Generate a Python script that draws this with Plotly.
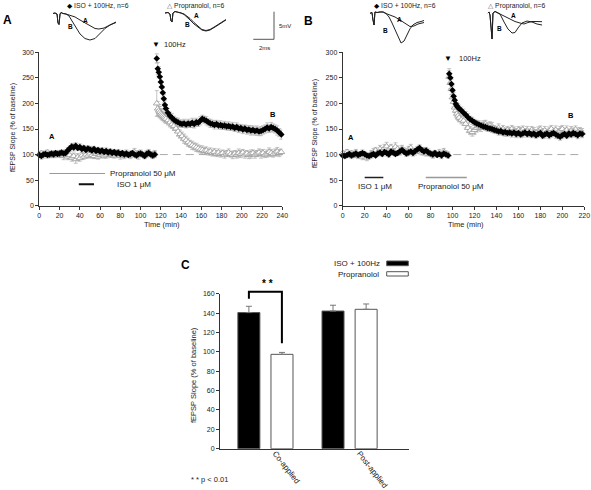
import plotly.graph_objects as go

W, H = 591, 490
FONT = "Liberation Sans, Arial, sans-serif"


def px(x):
    return x / W


def py(y):
    return 1 - y / H


# ---------------- Panel A data (time in min, fEPSP slope % of baseline) ----------------
tA_base = [0, 2, 4, 6, 8, 10, 12, 14, 16, 18, 20, 22, 24, 26, 28, 30, 32, 34, 36, 38,
           40, 42, 44, 46, 48, 50, 52, 54, 56, 58, 60, 62, 64, 66, 68, 70, 72, 74, 76, 78,
           80, 82, 84, 86, 88, 90, 92, 94, 96, 98, 100, 102, 104, 106, 108, 110, 112, 114]
tA_post = [116, 117, 118, 119, 120, 121, 122, 123, 124, 125,
           127, 129, 131, 133, 135, 137, 139, 141, 143, 145, 147, 149, 151, 153, 155, 157, 159,
           161, 163, 165, 167, 169, 171, 173, 175, 177, 179, 181, 183, 185, 187, 189, 191, 193,
           195, 197, 199, 201, 203, 205, 207, 209, 211, 213, 215, 217, 219, 221, 223, 225, 227,
           229, 231, 233, 235, 237, 239]

isoA_base = [99, 97, 100, 101, 99, 100, 102, 100, 103, 101,
             102, 104, 102, 103, 108, 112, 116, 114, 117, 113,
             115, 111, 113, 109, 112, 110, 108, 111, 107, 109,
             106, 108, 105, 107, 104, 106, 103, 105, 102, 104,
             101, 103, 100, 102, 99, 101, 103, 100, 98, 101,
             102, 100, 97, 101, 103, 100, 98, 100]
isoA_post = [288, 268, 261, 252, 242, 232, 221, 209, 197, 190,
             182, 176, 172, 168, 165, 163, 161,
             160, 161, 159, 161, 160, 162, 160, 163, 162, 166,
             170, 168, 166, 163, 161, 160, 158, 160, 157, 158,
             156, 157, 155, 156, 154, 155, 152, 154, 151, 152,
             149, 151, 148, 149, 147, 148, 146, 147, 145, 146,
             148, 150, 153, 151, 154, 152, 150, 147, 143, 139]
isoA_err_base = [5, 6, 5, 4, 6, 5, 5, 6, 4, 5, 6, 5, 5, 7, 6, 5, 6, 7, 6, 5,
                 6, 7, 5, 6, 5, 6, 7, 5, 6, 5, 6, 5, 4, 6, 5, 5, 6, 5, 4, 6,
                 5, 5, 6, 4, 5, 6, 5, 4, 5, 6, 5, 4, 5, 6, 5, 4, 5, 6]
isoA_err_post = [9, 12, 11, 10, 10, 9, 9, 8, 8, 8,
                 8, 7, 8, 7, 7, 8, 7, 7, 8, 7, 8, 7, 9, 8, 8, 7, 8, 7, 7, 8,
                 7, 8, 7, 8, 7, 7, 8, 7, 8, 7, 8, 7, 8, 7, 8, 8, 7, 8, 7, 8,
                 8, 9, 8, 8, 9, 8, 9, 8, 8, 9, 8, 9, 8, 8, 9, 8, 9]

propA_base = [101, 103, 99, 102, 104, 100, 98, 102, 100, 103,
              99, 101, 97, 100, 96, 99, 94, 97, 91, 95,
              93, 98, 96, 100, 98, 102, 99, 97, 101, 96,
              99, 102, 98, 100, 103, 99, 101, 98, 102, 100,
              97, 101, 99, 103, 100, 98, 102, 105, 101, 99,
              103, 100, 98, 102, 104, 101, 99, 102]
propA_post = [200, 190, 186, 183, 180, 178, 176, 174, 172, 170,
              167, 163, 159, 156, 151, 145, 140,
              136, 131, 128, 124, 121, 118, 116, 114, 112, 110,
              109, 107, 108, 105, 106, 103, 105, 102, 104, 101,
              103, 100, 102, 104, 101, 99, 102, 100, 103, 101,
              104, 100, 102, 99, 101, 103, 100, 102, 104, 101,
              103, 100, 102, 105, 103, 101, 104, 106, 103, 105]
propA_err_base = [5, 4, 6, 5, 5, 6, 4, 5, 6, 5, 5, 6, 7, 5, 6, 8, 7, 6, 8, 7,
                  6, 7, 5, 6, 5, 7, 6, 5, 6, 5, 5, 6, 5, 7, 6, 5, 6, 5, 6, 5,
                  6, 5, 7, 6, 5, 6, 5, 7, 6, 8, 6, 5, 6, 5, 6, 5, 7, 6]
propA_err_post = [25, 14, 12, 11, 10, 10, 9, 9, 9, 9,
                  9, 9, 8, 9, 8, 9, 8, 8, 9, 8, 8, 7, 8, 7, 8, 7, 7, 8, 7, 7,
                  6, 7, 6, 7, 6, 7, 6, 6, 7, 6, 7, 6, 7, 6, 7, 8, 7, 6, 7, 6,
                  7, 8, 6, 7, 6, 7, 8, 7, 6, 7, 8, 7, 6, 7, 8, 7, 6]

# ---------------- Panel B data ----------------
tB_base = [0, 2, 4, 6, 8, 10, 12, 14, 16, 18, 20, 22, 24, 26, 28, 30, 32, 34, 36, 38,
           40, 42, 44, 46, 48, 50, 52, 54, 56, 58, 60, 62, 64, 66, 68, 70, 72, 74, 76, 78,
           80, 82, 84, 86, 88, 90, 92, 94, 96]
tB_post = [97, 98, 99, 100, 101, 102, 103, 104, 105, 106,
           108, 110, 112, 114, 116, 118, 120, 122, 124, 126, 128, 130, 132, 134, 136, 138,
           140, 142, 144, 146, 148, 150, 152, 154, 156, 158, 160, 162, 164, 166, 168, 170,
           172, 174, 176, 178, 180, 182, 184, 186, 188, 190, 192, 194, 196, 198, 200, 202,
           204, 206, 208, 210, 212, 214, 216, 218]

isoB_base = [98, 97, 99, 101, 98, 100, 102, 99, 101, 103,
             101, 98, 97, 99, 101, 98, 102, 104, 101, 105,
             103, 100, 106, 104, 101, 103, 106, 109, 105, 102,
             104, 106, 103, 107, 110, 113, 109, 106, 108, 104,
             102, 100, 103, 99, 101, 98, 102, 100, 98]
isoB_post = [258, 250, 238, 226, 214, 206, 199, 195, 192, 190,
             186, 182, 178, 173, 169, 166, 163, 161, 159, 157,
             155, 154, 152, 151, 150, 148, 147, 145, 146, 143,
             144, 142, 143, 141, 143, 140, 142, 139, 141, 143,
             140, 142, 139, 141, 138, 140, 142, 137, 139, 141,
             138, 140, 142, 139, 137, 135, 138, 140, 137, 141,
             139, 142, 140, 138, 141, 140]
isoB_err_base = [4, 5, 4, 5, 6, 4, 5, 4, 5, 6, 5, 4, 5, 6, 5, 4, 5, 6, 5, 4,
                 6, 5, 5, 6, 4, 5, 6, 5, 4, 5, 6, 5, 6, 5, 4, 6, 5, 5, 6, 4,
                 5, 6, 5, 4, 5, 6, 5, 4, 5]
isoB_err_post = [10, 9, 9, 8, 8, 8, 7, 7, 7, 7,
                 7, 7, 6, 7, 6, 7, 6, 6, 7, 6, 6, 7, 6, 6, 7, 6, 6, 7, 6, 6,
                 7, 6, 6, 7, 6, 7, 6, 6, 7, 6, 6, 7, 6, 7, 6, 6, 7, 6, 7, 6,
                 7, 6, 6, 7, 6, 7, 7, 6, 6, 7, 6, 7, 6, 7, 6, 7]

propB_base = [103, 100, 105, 98, 102, 99, 104, 97, 101, 96,
              99, 94, 98, 102, 105, 108, 104, 111, 107, 113,
              116, 110, 114, 108, 115, 111, 106, 112, 108, 104,
              110, 113, 107, 105, 109, 111, 104, 108, 102, 105,
              101, 99, 103, 100, 104, 101, 106, 102, 100]
propB_post = [252, 240, 228, 212, 203, 192, 186, 180, 176, 172,
              168, 166, 160, 152, 147, 144, 148, 152, 155, 152,
              158, 160, 154, 157, 155, 150, 148, 152, 146, 150,
              144, 148, 145, 150, 147, 143, 148, 145, 149, 144,
              147, 143, 148, 145, 142, 146, 149, 144, 147, 143,
              146, 150, 145, 148, 144, 147, 150, 145, 148, 143,
              147, 145, 149, 144, 146, 143]
propB_err_base = [5, 6, 5, 4, 6, 5, 6, 5, 4, 6, 5, 6, 5, 6, 7, 6, 5, 7, 6, 7,
                  8, 7, 6, 7, 8, 6, 7, 6, 5, 7, 6, 7, 5, 6, 7, 6, 5, 6, 5, 6,
                  5, 6, 5, 4, 6, 5, 6, 5, 5]
propB_err_post = [12, 11, 11, 10, 10, 10, 9, 9, 9, 8,
                  8, 9, 8, 9, 8, 8, 9, 8, 8, 7, 8, 7, 8, 7, 8, 7, 7, 8, 7, 7,
                  8, 7, 8, 7, 7, 8, 7, 8, 7, 7, 8, 7, 7, 8, 7, 8, 7, 7, 8, 7,
                  8, 7, 7, 8, 7, 8, 7, 7, 8, 7, 8, 7, 7, 8, 7, 8]

# Event times and drug application periods (min)
tetanus_A, tetanus_B = 115, 96
propA_period, isoA_period = [10, 65], [39, 54]
isoB_period, propB_period = [20, 37], [75.6, 113]

# ---------------- Panel C data ----------------
groups = ["Co-applied", "Post-applied"]
iso_c = [140.5, 142.1]
iso_c_err = [6.5, 6.0]
prop_c = [97.4, 143.9]
prop_c_err = [2.0, 5.5]

# ---------------- Waveform insets (ms, mV) ----------------
wA_iso_ms_a = [0, 0.19, 0.39, 0.48, 0.58, 0.68, 0.77, 0.97, 1.26, 1.64, 2.13, 2.61, 3.09, 3.57, 4.06, 4.44, 4.93, 5.51, 6.09]
wA_iso_mv_a = [0, 0.09, -0.09, -1.72, -1.99, -0.09, 0.18, 0, -0.09, -0.27, -0.63, -1.18, -1.72, -2.26, -2.72, -2.81, -2.63, -2.08, -1.54]
wA_iso_ms_b = [0, 0.19, 0.39, 0.48, 0.58, 0.68, 0.77, 0.97, 1.26, 1.55, 1.84, 2.22, 2.61, 3.09, 3.57, 4.06, 4.54, 5.02, 5.51, 6.09]
wA_iso_mv_b = [0, 0.09, -0.09, -1.72, -1.99, -0.09, 0.18, 0, -0.09, -0.45, -1.36, -2.63, -3.71, -4.53, -4.80, -4.53, -3.53, -2.72, -2.08, -1.63]

wA_prop_ms = [0, 0.29, 0.48, 0.58, 0.68, 0.77, 0.97, 1.26, 1.55, 1.84, 2.13, 2.42, 2.80, 3.19, 3.57, 3.96, 4.35, 4.83, 5.31, 5.89]
wA_prop_mv_a = [0, 0.09, -0.18, -1.45, -1.63, 0, 0.27, 0.18, 0, -0.18, -0.54, -1.00, -1.72, -2.45, -2.99, -3.17, -2.99, -2.45, -1.81, -1.18]
wA_prop_mv_b = [0, 0.09, -0.18, -1.45, -1.63, 0, 0.27, 0.18, 0, -0.27, -0.72, -1.27, -1.99, -2.63, -3.08, -3.26, -3.08, -2.54, -1.90, -1.27]

wB_iso_ms_a = [0, 0.19, 0.29, 0.39, 0.48, 0.68, 0.97, 1.26, 1.55, 1.93, 2.42, 2.90, 3.38, 3.86, 4.25, 4.64, 5.22]
wB_iso_mv_a = [0, 0.14, -1.23, -2.12, 0.24, 0.14, 0.24, 0.24, -0.04, -0.31, -0.67, -1.22, -1.85, -2.39, -2.30, -1.94, -1.67]
wB_iso_ms_b = [0, 0.19, 0.29, 0.39, 0.48, 0.68, 0.97, 1.26, 1.55, 1.84, 2.13, 2.42, 2.71, 3.00, 3.29, 3.57, 3.86, 4.15, 4.54, 4.93, 5.22]
wB_iso_mv_b = [0, 0.14, -1.23, -2.12, 0.24, 0.14, 0.24, 0.24, -0.04, -0.67, -1.76, -3.03, -4.29, -5.38, -5.02, -3.93, -2.83, -2.10, -1.67, -1.49, -1.30]

wB_prop_ms_a = [0, 0.13, 0.22, 0.32, 0.42, 0.51, 0.71, 0.90, 1.19, 1.67, 2.15, 2.64, 3.12, 3.51, 3.89, 4.28, 4.76, 5.25]
wB_prop_mv_a = [0, 0.24, -0.31, -3.03, -4.66, 0.05, 0.33, 0.14, -0.13, -0.49, -1.03, -1.49, -1.76, -1.94, -1.67, -1.49, -1.49, -1.52]
wB_prop_ms_b = [0, 0.13, 0.22, 0.32, 0.42, 0.51, 0.71, 0.90, 1.19, 1.58, 1.96, 2.35, 2.64, 2.93, 3.31, 3.80, 4.28, 4.76, 5.25]
wB_prop_mv_b = [0, 0.24, -0.31, -3.03, -4.66, 0.05, 0.33, 0.14, -0.13, -1.58, -2.85, -3.57, -3.48, -2.66, -1.76, -1.40, -1.58, -1.94, -2.12]

# ---------------- Build figure ----------------
fig = go.Figure()

ERR = dict(type="data", color="#aaaaaa", thickness=0.7, width=2, visible=True)


def add_series(t, v, e, xa, ya, iso):
    if iso:
        marker = dict(symbol="diamond", size=5, color="black", line=dict(width=0))
    else:
        marker = dict(symbol="triangle-up", size=6, color="white", line=dict(color="#999999", width=0.8))
    fig.add_trace(go.Scatter(x=t, y=v, mode="markers", marker=marker,
                             error_y=dict(array=e, **ERR), xaxis=xa, yaxis=ya,
                             cliponaxis=False, showlegend=False))


add_series(tA_base + tA_post, propA_base + propA_post, propA_err_base + propA_err_post, "x", "y", False)
add_series(tA_base + tA_post, isoA_base + isoA_post, isoA_err_base + isoA_err_post, "x", "y", True)
add_series(tB_base + tB_post, propB_base + propB_post, propB_err_base + propB_err_post, "x2", "y2", False)
add_series(tB_base + tB_post, isoB_base + isoB_post, isoB_err_base + isoB_err_post, "x2", "y2", True)

# Panel C bars
fig.add_trace(go.Bar(x=groups, y=iso_c, name="ISO + 100Hz", xaxis="x3", yaxis="y3",
                     marker=dict(color="black", line=dict(color="#555555", width=1)),
                     error_y=dict(type="data", array=iso_c_err, arrayminus=[0, 0], symmetric=False,
                                  color="#777777", thickness=1, width=3),
                     showlegend=False))
fig.add_trace(go.Bar(x=groups, y=prop_c, name="Propranolol", xaxis="x3", yaxis="y3",
                     marker=dict(color="white", line=dict(color="#555555", width=1)),
                     error_y=dict(type="data", array=prop_c_err, arrayminus=[0, 0], symmetric=False,
                                  color="#777777", thickness=1, width=3),
                     showlegend=False))

# Waveform insets
SX, SY = 10.35, 5.52  # px per ms, px per mV
insets = [
    ("4", 53, 13.5, 6.2, 0.5, -5.0, [(wA_iso_ms_a, wA_iso_mv_a), (wA_iso_ms_b, wA_iso_mv_b)]),
    ("5", 165, 13.0, 6.2, 0.5, -3.5, [(wA_prop_ms, wA_prop_mv_a), (wA_prop_ms, wA_prop_mv_b)]),
    ("6", 370, 13.3, 5.4, 0.5, -5.6, [(wB_iso_ms_a, wB_iso_mv_a), (wB_iso_ms_b, wB_iso_mv_b)]),
    ("7", 487.7, 13.3, 5.4, 0.5, -4.9, [(wB_prop_ms_a, wB_prop_mv_a), (wB_prop_ms_b, wB_prop_mv_b)]),
]
layout_axes = {}
for aid, x0, base, wms, top, bot, traces in insets:
    for ms, mv in traces:
        fig.add_trace(go.Scatter(x=ms, y=mv, mode="lines", line=dict(color="#222222", width=1),
                                 xaxis="x" + aid, yaxis="y" + aid, showlegend=False, cliponaxis=False))
    layout_axes["xaxis" + aid] = dict(domain=[px(x0), px(x0 + wms * SX)], range=[0, wms], visible=False,
                                      anchor="y" + aid, fixedrange=True)
    layout_axes["yaxis" + aid] = dict(domain=[py(base - bot * SY), py(base - top * SY)], range=[bot, top],
                                      visible=False, anchor="x" + aid, fixedrange=True)

AX = dict(showline=True, linecolor="#333333", linewidth=1, ticks="outside", ticklen=3,
          tickcolor="#333333", tickwidth=1, showgrid=False, zeroline=False, automargin=False,
          tickfont=dict(family=FONT, size=7, color="#222222"))

fig.update_layout(
    width=W, height=H, autosize=False, template="none",
    margin=dict(l=0, r=0, t=0, b=0, pad=0),
    paper_bgcolor="white", plot_bgcolor="rgba(0,0,0,0)",
    showlegend=False, font=dict(family=FONT, color="#222222"),
    barmode="group", bargap=0.213, bargroupgap=0.335,
    xaxis=dict(domain=[px(39.3), px(282.3)], range=[0, 240], dtick=20, tick0=0, anchor="y", **AX),
    yaxis=dict(domain=[py(205.7), py(52.3)], range=[0, 300], dtick=50, tick0=0, anchor="x", **AX),
    xaxis2=dict(domain=[px(342.7), px(584.3)], range=[0, 220], dtick=20, tick0=0, anchor="y2", **AX),
    yaxis2=dict(domain=[py(205.7), py(52.3)], range=[0, 300], dtick=50, tick0=0, anchor="x2", **AX),
    xaxis3=dict(domain=[px(220), px(409.3)], range=[-0.54, 1.71], type="category", anchor="y3",
                showline=True, linecolor="#333333", linewidth=1, ticks="", showgrid=False,
                zeroline=False, automargin=False, tickangle=52, ticklabelshift=10,
                ticklabelstandoff=-4,
                tickfont=dict(family=FONT, size=8, color="#222222")),
    yaxis3=dict(domain=[py(448.7), py(293.7)], range=[0, 160], dtick=20, tick0=0, anchor="x3", **AX),
    **layout_axes,
)

ann = []


def txt(x, y, s, size=7.5, bold=False, xanchor="center", angle=0, xref="paper", yref="paper", color="#222222"):
    if xref == "paper":
        x = px(x)
    if yref == "paper":
        y = py(y)
    ann.append(dict(x=x, y=y, xref=xref, yref=yref, text=("<b>%s</b>" % s) if bold else s,
                    showarrow=False, xanchor=xanchor, yanchor="middle", textangle=angle,
                    font=dict(family=FONT, size=size, color=color)))


DIAMOND = '<span style="font-family:DejaVu Sans;color:black">◆</span>'
TRIANGLE = '<span style="font-family:DejaVu Sans;color:#666666">△</span>'

# Axis titles
txt(13, 128, "fEPSP Slope (% of baseline)", size=7, angle=-90)
txt(315, 124, "fEPSP Slope (% of baseline)", size=7, angle=-90)
txt(193.5, 375.5, "fEPSP Slope (% of baseline)", size=7.5, angle=-90)
txt(162.5, 225, "Time (min)", size=7.5)
txt(465.8, 225, "Time (min)", size=7.5)

# Panel letters
txt(7.5, 20, "A", size=12, bold=True, color="black")
txt(308.5, 21.5, "B", size=12, bold=True, color="black")
txt(185, 265, "C", size=12, bold=True, color="black")

# Top legends
txt(65, 6, DIAMOND + " ISO + 100Hz, n=6", size=6.8, xanchor="left")
txt(165, 6, TRIANGLE + " Propranolol, n=6", size=6.8, xanchor="left")
txt(372, 6, DIAMOND + " ISO + 100Hz, n=6", size=6.8, xanchor="left")
txt(486, 6, TRIANGLE + " Propranolol, n=6", size=6.8, xanchor="left")

# Inset labels
for (lx, ly, s) in [(85, 20, "A"), (70, 26.7, "B"), (196.7, 16, "A"), (187.7, 25, "B"),
                    (399.3, 19, "A"), (385.7, 30.7, "B"), (513.3, 15, "A"), (499.3, 28.3, "B")]:
    txt(lx, ly, s, size=6.5, bold=True, color="black")

# Scale bar labels
txt(284.5, 25.7, "5mV", size=6)
txt(264, 48.5, "2ms", size=6)

# 100Hz markers (x tied to the tetanus time, y in figure space)
txt(tetanus_A, 45, "▼", size=8, xref="x", color="black")
txt(tetanus_A + 6, 45, "100Hz", size=7.5, xanchor="left", xref="x")
txt(tetanus_B, 58.3, "▼", size=8, xref="x2", color="black")
txt(tetanus_B + 8.5, 58.3, "100Hz", size=7.5, xanchor="left", xref="x2")

# Data labels A/B on time courses
txt(13, 135, "A", size=7.5, bold=True, xref="x", yref="y", color="black")
txt(231, 179, "B", size=7.5, bold=True, xref="x", yref="y", color="black")
txt(8, 134, "A", size=7.5, bold=True, xref="x2", yref="y2", color="black")
txt(208, 177, "B", size=7.5, bold=True, xref="x2", yref="y2", color="black")

# Drug labels
txt(67.6, 63, "Propranolol 50 μM", size=8, xanchor="left", xref="x", yref="y")
txt(74.8, 42, "ISO 1 μM", size=8, xanchor="left", xref="x", yref="y")
txt(29, 37, "ISO 1 μM", size=8, xref="x2", yref="y2")
txt(98.6, 37, "Propranolol 50 μM", size=8, xref="x2", yref="y2")

# Panel C texts
txt(382, 263, "ISO + 100Hz", size=8, xanchor="right")
txt(381, 274, "Propranolol", size=8, xanchor="right")
txt(267.5, 283, "* *", size=10, bold=True, color="black")
txt(189, 479, "* * p &lt; 0.01", size=7.5, xanchor="left")

shapes = []
# Drug application bars
shapes.append(dict(type="line", xref="x", yref="y", x0=propA_period[0], x1=propA_period[1], y0=63, y1=63,
                   line=dict(color="#999999", width=1)))
shapes.append(dict(type="line", xref="x", yref="y", x0=isoA_period[0], x1=isoA_period[1], y0=42, y1=42,
                   line=dict(color="#111111", width=2)))
shapes.append(dict(type="line", xref="x2", yref="y2", x0=isoB_period[0], x1=isoB_period[1], y0=55, y1=55,
                   line=dict(color="#222222", width=1.5)))
shapes.append(dict(type="line", xref="x2", yref="y2", x0=propB_period[0], x1=propB_period[1], y0=55, y1=55,
                   line=dict(color="#999999", width=1.5)))
# Baseline reference (100 %)
shapes.append(dict(type="line", xref="x", yref="y", x0=119, x1=240, y0=100, y1=100,
                   line=dict(color="#aaaaaa", width=1, dash="8px,5px"), layer="below"))
shapes.append(dict(type="line", xref="x2", yref="y2", x0=100.7, x1=218, y0=100, y1=100,
                   line=dict(color="#aaaaaa", width=1, dash="8px,5px"), layer="below"))
# Scale bar
shapes.append(dict(type="line", xref="paper", yref="paper", x0=px(274), x1=px(274), y0=py(11.7), y1=py(39.3),
                   line=dict(color="#555555", width=1)))
shapes.append(dict(type="line", xref="paper", yref="paper", x0=px(253.3), x1=px(274), y0=py(39.3), y1=py(39.3),
                   line=dict(color="#555555", width=1)))
# Panel C legend swatches
shapes.append(dict(type="rect", xref="paper", yref="paper", x0=px(386.7), x1=px(408.3), y0=py(265.7), y1=py(261),
                   fillcolor="black", line=dict(color="#555555", width=1)))
shapes.append(dict(type="rect", xref="paper", yref="paper", x0=px(386.7), x1=px(408.3), y0=py(276), y1=py(271.7),
                   fillcolor="white", line=dict(color="#555555", width=1)))
# Significance bracket
shapes.append(dict(type="path", xref="paper", yref="paper",
                   path="M %f,%f L %f,%f L %f,%f L %f,%f" % (px(248.9), py(298.7), px(248.9), py(291.7),
                                                           px(281.9), py(291.7), px(281.9), py(343.3)),
                   line=dict(color="black", width=2)))

fig.update_layout(annotations=ann, shapes=shapes)
fig.write_html("out.html",
               config={"displayModeBar": False, "staticPlot": True},
               post_script="document.body.style.margin='0';document.body.style.padding='0';"
                           "document.body.style.overflow='hidden';")
